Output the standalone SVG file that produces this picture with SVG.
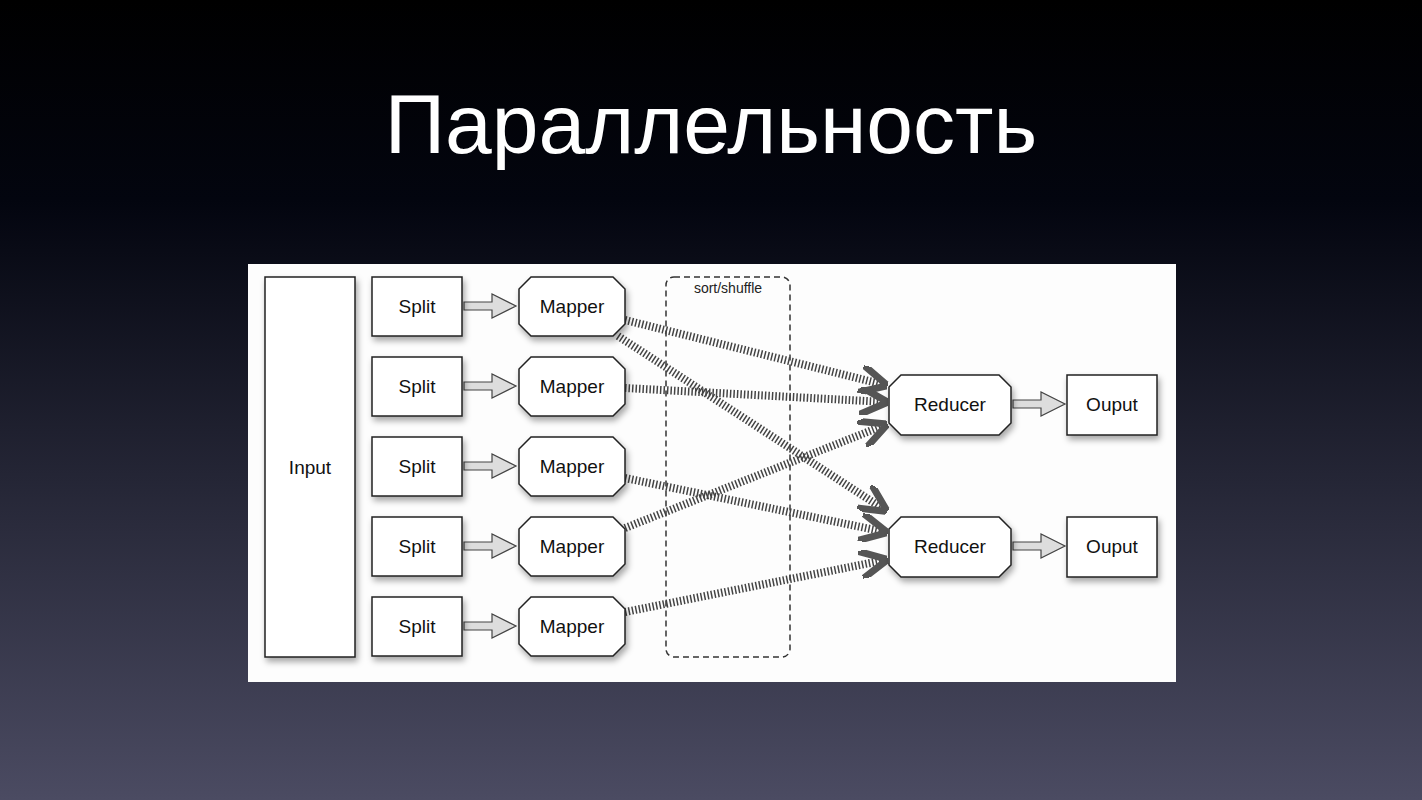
<svg xmlns="http://www.w3.org/2000/svg" width="1422" height="800" viewBox="0 0 1422 800">
<defs>
<linearGradient id="bg" x1="0" y1="0" x2="0" y2="1">
<stop offset="0" stop-color="#000"/><stop offset="0.25" stop-color="#03050f"/><stop offset="1" stop-color="#4b4b62"/>
</linearGradient>
<filter id="sh" x="-20%" y="-20%" width="140%" height="150%"><feDropShadow dx="2" dy="4" stdDeviation="3" flood-color="#000" flood-opacity="0.35"/></filter>
<marker id="hh" viewBox="0 0 10 10" refX="9" refY="5" markerWidth="3.5" markerHeight="3.5" orient="auto" markerUnits="strokeWidth"><path d="M0,0 L10,5 L0,10" fill="none" stroke="#555" stroke-width="2.5"/></marker>
</defs>
<style>
.b{fill:#fff;stroke:#222;stroke-width:1.5;filter:url(#sh)}
.t{font-family:"Liberation Sans",Arial,sans-serif;font-size:19px;fill:#111;text-anchor:middle;dominant-baseline:central}
.h{fill:none;stroke:#444;stroke-width:8;stroke-dasharray:1.5 2;marker-end:url(#hh)}
.ar{fill:#ddd;stroke:#444;stroke-width:1.2}
</style>
<rect width="1422" height="800" fill="url(#bg)"/>
<text x="711" y="124" font-family="Liberation Sans,Arial,sans-serif" font-size="84" fill="#fff" text-anchor="middle" dominant-baseline="central">Параллельность</text>
<rect x="248" y="264" width="928" height="418" fill="#fdfdfd"/>
<rect x="666" y="277" width="124" height="380" rx="8" fill="none" stroke="#333" stroke-width="1.5" stroke-dasharray="6 4"/>
<text x="728" y="288" font-family="Liberation Sans,Arial,sans-serif" font-size="14" fill="#222" text-anchor="middle" dominant-baseline="central">sort/shuffle</text>
<g id="connectors">
<path class="h" d="M625,320 L885,385"/>
<path class="h" d="M618,336 L885,510"/>
<path class="h" d="M625,388 L885,402"/>
<path class="h" d="M625,478 L885,532"/>
<path class="h" d="M625,528 L885,425"/>
<path class="h" d="M625,612 L885,560"/>
<g id="simple">
<path class="ar" d="M464,302 h28 v-8 l24,12 l-24,12 v-8 h-28z"/>
<path class="ar" d="M464,382 h28 v-8 l24,12 l-24,12 v-8 h-28z"/>
<path class="ar" d="M464,462 h28 v-8 l24,12 l-24,12 v-8 h-28z"/>
<path class="ar" d="M464,542 h28 v-8 l24,12 l-24,12 v-8 h-28z"/>
<path class="ar" d="M464,622 h28 v-8 l24,12 l-24,12 v-8 h-28z"/>
<path class="ar" d="M1013,400 h28 v-8 l24,12 l-24,12 v-8 h-28z"/>
<path class="ar" d="M1013,542 h28 v-8 l24,12 l-24,12 v-8 h-28z"/>
</g>
</g>
<g id="input"><rect class="b" x="265" y="277" width="90" height="380"/><text class="t" x="310" y="467">Input</text></g>
<g id="split1"><rect class="b" x="372" y="277" width="90" height="59"/><text class="t" x="417" y="306">Split</text></g>
<g id="split2"><rect class="b" x="372" y="357" width="90" height="59"/><text class="t" x="417" y="386">Split</text></g>
<g id="split3"><rect class="b" x="372" y="437" width="90" height="59"/><text class="t" x="417" y="466">Split</text></g>
<g id="split4"><rect class="b" x="372" y="517" width="90" height="59"/><text class="t" x="417" y="546">Split</text></g>
<g id="split5"><rect class="b" x="372" y="597" width="90" height="59"/><text class="t" x="417" y="626">Split</text></g>
<g id="mapper1"><path class="b" d="M531,277 h82 l12,12 v35 l-12,12 h-82 l-12,-12 v-35z"/><text class="t" x="572" y="306">Mapper</text></g>
<g id="mapper2"><path class="b" d="M531,357 h82 l12,12 v35 l-12,12 h-82 l-12,-12 v-35z"/><text class="t" x="572" y="386">Mapper</text></g>
<g id="mapper3"><path class="b" d="M531,437 h82 l12,12 v35 l-12,12 h-82 l-12,-12 v-35z"/><text class="t" x="572" y="466">Mapper</text></g>
<g id="mapper4"><path class="b" d="M531,517 h82 l12,12 v35 l-12,12 h-82 l-12,-12 v-35z"/><text class="t" x="572" y="546">Mapper</text></g>
<g id="mapper5"><path class="b" d="M531,597 h82 l12,12 v35 l-12,12 h-82 l-12,-12 v-35z"/><text class="t" x="572" y="626">Mapper</text></g>
<g id="reducer1"><path class="b" d="M901,375 h98 l12,12 v36 l-12,12 h-98 l-12,-12 v-36z"/><text class="t" x="950" y="404">Reducer</text></g>
<g id="reducer2"><path class="b" d="M901,517 h98 l12,12 v36 l-12,12 h-98 l-12,-12 v-36z"/><text class="t" x="950" y="546">Reducer</text></g>
<g id="output1"><rect class="b" x="1067" y="375" width="90" height="60"/><text class="t" x="1112" y="404">Ouput</text></g>
<g id="output2"><rect class="b" x="1067" y="517" width="90" height="60"/><text class="t" x="1112" y="546">Ouput</text></g>
</svg>
